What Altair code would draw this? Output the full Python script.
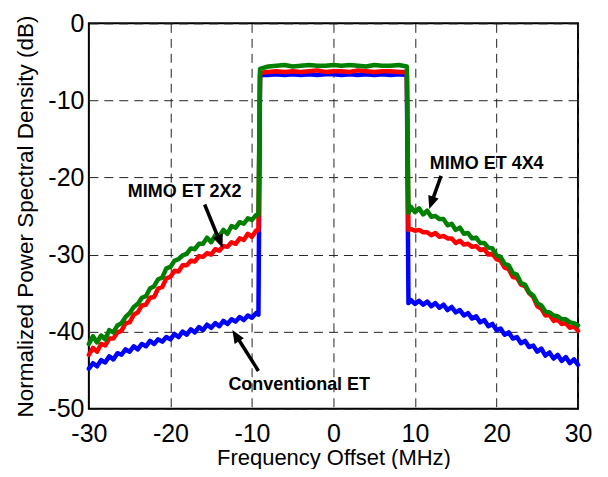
import altair as alt
import pandas as pd

# ---------------- data ----------------
freq_left = [-30.0, -29.5, -29.0, -28.5, -28.0, -27.5, -27.0, -26.5, -26.0, -25.5,
             -25.0, -24.5, -24.0, -23.5, -23.0, -22.5, -22.0, -21.5, -21.0, -20.5,
             -20.0, -19.5, -19.0, -18.5, -18.0, -17.5, -17.0, -16.5, -16.0, -15.5,
             -15.0, -14.5, -14.0, -13.5, -13.0, -12.5, -12.0, -11.5, -11.0, -10.5,
             -10.0, -9.5, -9.2]
freq_band = [-9.0, -8.0, -7.0, -6.0, -5.0, -4.0, -3.0, -2.0, -1.0, 0.0,
             1.0, 2.0, 3.0, 4.0, 5.0, 6.0, 7.0, 8.0, 9.0]
freq_right = [9.2, 9.5, 10.0, 10.5, 11.0, 11.5, 12.0, 12.5, 13.0, 13.5,
              14.0, 14.5, 15.0, 15.5, 16.0, 16.5, 17.0, 17.5, 18.0, 18.5,
              19.0, 19.5, 20.0, 20.5, 21.0, 21.5, 22.0, 22.5, 23.0, 23.5,
              24.0, 24.5, 25.0, 25.5, 26.0, 26.5, 27.0, 27.5, 28.0, 28.5,
              29.0, 29.5, 30.0]

# MIMO ET 4X4 (green)
green_left = [-41.6, -40.6, -41.4, -40.5, -41.0, -39.8, -40.1, -39.2, -38.9, -38.1,
              -37.6, -36.8, -36.4, -35.6, -35.4, -34.4, -34.1, -33.2, -33.0, -31.8,
              -31.6, -30.8, -30.6, -30.1, -29.9, -29.2, -29.3, -28.6, -28.6, -27.8,
              -28.4, -27.5, -27.6, -26.8, -27.3, -26.3, -26.5, -25.8, -26.0, -25.3,
              -25.5, -24.9, -24.8]
green_band = [-5.9, -5.6, -5.5, -5.4, -5.6, -5.5, -5.4, -5.5, -5.5, -5.4,
              -5.5, -5.4, -5.5, -5.6, -5.4, -5.5, -5.5, -5.4, -5.6]
green_right = [-24.6, -23.8, -24.5, -24.0, -24.8, -24.3, -25.1, -25.0, -25.4, -25.4,
               -26.2, -26.0, -26.8, -26.5, -27.3, -27.2, -27.9, -27.8, -28.5, -28.5,
               -29.1, -29.2, -30.1, -30.3, -31.2, -31.4, -32.4, -32.6, -33.7, -33.9,
               -34.9, -35.3, -36.3, -36.6, -37.4, -37.5, -37.9, -38.0, -38.4, -38.4,
               -38.8, -38.9, -39.2]

# MIMO ET 2X2 (red)
red_left = [-43.0, -42.1, -42.6, -41.6, -41.8, -40.9, -40.9, -40.1, -39.9, -38.9,
            -38.8, -37.8, -37.5, -36.6, -36.5, -35.6, -35.5, -34.4, -34.2, -33.1,
            -32.9, -32.1, -32.2, -31.4, -31.4, -30.8, -30.9, -30.2, -30.3, -29.8,
            -30.0, -29.3, -29.5, -28.9, -29.0, -28.4, -28.6, -27.9, -28.1, -27.3,
            -27.7, -26.9, -26.8]
red_band = [-6.4, -6.3, -6.2, -6.3, -6.2, -6.3, -6.2, -6.1, -6.3, -6.2,
            -6.2, -6.3, -6.1, -6.2, -6.3, -6.2, -6.2, -6.3, -6.3]
red_right = [-26.8, -26.7, -26.9, -26.8, -27.1, -27.1, -27.5, -27.2, -27.7, -27.6,
             -27.9, -27.9, -28.5, -28.2, -28.7, -28.6, -29.0, -28.9, -29.4, -29.3,
             -30.0, -29.9, -30.6, -30.8, -31.7, -31.9, -32.9, -33.0, -33.9, -34.1,
             -35.0, -35.5, -36.7, -37.0, -37.9, -37.8, -38.6, -38.4, -39.0, -38.9,
             -39.5, -39.3, -39.9]

# Conventional ET (blue)
blue_left = [-44.8, -44.1, -44.5, -43.7, -44.0, -43.2, -43.6, -42.8, -43.0, -42.3,
             -42.6, -41.9, -42.3, -41.6, -41.9, -41.2, -41.6, -41.0, -41.3, -40.7,
             -41.0, -40.3, -40.7, -40.0, -40.4, -39.7, -40.1, -39.4, -39.8, -39.1,
             -39.5, -38.9, -39.3, -38.6, -39.0, -38.4, -38.7, -38.1, -38.5, -37.9,
             -38.2, -37.6, -37.8]
blue_band = [-6.7, -6.7, -6.6, -6.7, -6.6, -6.7, -6.6, -6.7, -6.6, -6.6,
             -6.7, -6.6, -6.7, -6.6, -6.7, -6.6, -6.7, -6.6, -6.7]
blue_right = [-36.3, -35.9, -36.4, -36.0, -36.5, -36.1, -36.7, -36.3, -36.9, -36.5,
              -37.2, -36.8, -37.5, -37.2, -37.9, -37.6, -38.3, -38.0, -38.8, -38.5,
              -39.3, -39.0, -39.8, -39.6, -40.4, -40.1, -40.9, -40.7, -41.5, -41.2,
              -42.0, -41.8, -42.6, -42.2, -43.1, -42.7, -43.5, -43.0, -43.8, -43.3,
              -44.1, -43.6, -44.3]

series_names = ["Conventional ET", "MIMO ET 2X2", "MIMO ET 4X4"]
series_colors = ["#0000ff", "#ff0000", "#008000"]

# annotations
label_text = ["MIMO ET 2X2", "MIMO ET 4X4", "Conventional ET"]
label_x = [-18.25, 18.8, -4.2]
label_y = [-21.9, -18.3, -46.9]
arrow_x1 = [-15.8, 13.2, -9.2]
arrow_y1 = [-23.5, -19.8, -45.1]
arrow_x2 = [-13.9, 12.0, -11.95]
arrow_y2 = [-28.4, -23.35, -40.5]
tip_x = [-13.6, 11.75, -12.4]
tip_y = [-29.1, -24.1, -39.8]
tip_angle = [158, 199, 328]

# ---------------- build tables ----------------
freq = freq_left + freq_band + freq_right
series_vals = {
    "Conventional ET": blue_left + blue_band + blue_right,
    "MIMO ET 2X2": red_left + red_band + red_right,
    "MIMO ET 4X4": green_left + green_band + green_right,
}
rows = []
for name in series_names:
    vals = series_vals[name]
    for i, (f, v) in enumerate(zip(freq, vals)):
        rows.append({"series": name, "idx": i, "freq": f, "psd": v})
df = pd.DataFrame(rows)

ann = pd.DataFrame({"text": label_text, "x": label_x, "y": label_y})
arr = pd.DataFrame({"x1": arrow_x1, "y1": arrow_y1, "x2": arrow_x2, "y2": arrow_y2,
                    "tx": tip_x, "ty": tip_y, "ang": tip_angle})

FONT = "Liberation Sans"
XT = "Frequency Offset (MHz)"
YT = "Normalized Power Spectral Density (dB)"
xscale = alt.Scale(domain=[-30, 30], nice=False)
yscale = alt.Scale(domain=[-50, 0], nice=False)

xaxis = alt.Axis(values=[-30, -20, -10, 0, 10, 20, 30], labelExpr="'' + datum.value",
                 grid=True, gridDash=[9, 6], gridColor="#222", gridWidth=1,
                 ticks=False, domain=False, labelFlush=False, labelOverlap=False,
                 labelFont=FONT, labelFontSize=25, labelColor="#000", labelPadding=13,
                 titleFont=FONT, titleFontSize=22, titleFontWeight="normal",
                 titleColor="#000", titlePadding=1)
yaxis = alt.Axis(values=[0, -10, -20, -30, -40, -50], labelExpr="'' + datum.value",
                 grid=True, gridDash=[9, 6], gridColor="#222", gridWidth=1,
                 ticks=False, domain=False, labelOverlap=False,
                 labelFont=FONT, labelFontSize=25, labelColor="#000", labelPadding=5,
                 titleFont=FONT, titleFontSize=22.5, titleFontWeight="normal",
                 titleColor="#000", titlePadding=10)


def X(field):
    return alt.X(field, type="quantitative", scale=xscale, axis=xaxis, title=XT)


def Y(field):
    return alt.Y(field, type="quantitative", scale=yscale, axis=yaxis, title=YT)


layers = []
for name, col in zip(series_names, series_colors):
    layers.append(
        alt.Chart(df).transform_filter(alt.datum.series == name)
        .mark_line(color=col, strokeWidth=4.5, strokeJoin="round", strokeCap="round")
        .encode(x=X("freq"), y=Y("psd"), order="idx:Q")
    )

shafts = alt.Chart(arr).mark_rule(color="#000", strokeWidth=3.5).encode(
    x=X("x1"), y=Y("y1"), x2="x2:Q", y2="y2:Q")
heads = alt.Chart(arr).mark_point(
    shape="M0,0 L0.42,1 L-0.42,1 Z", filled=True, color="#000", opacity=1,
    size=676, strokeWidth=0).encode(
    x=X("tx"), y=Y("ty"), angle=alt.Angle("ang:Q", scale=None))
labels = alt.Chart(ann).mark_text(font=FONT, fontSize=18, fontWeight="bold",
                                  color="#000", align="center", baseline="middle").encode(
    x=X("x"), y=Y("y"), text="text:N")

chart = alt.layer(*layers, shafts, heads, labels).properties(
    width=490, height=386,
    autosize=alt.AutoSizeParams(type="none"),
    padding={"left": 81, "top": 15, "right": 22, "bottom": 60},
).configure_view(stroke="#000", strokeWidth=2)

chart.save("out.html", embed_options={"renderer": "svg", "actions": False})
